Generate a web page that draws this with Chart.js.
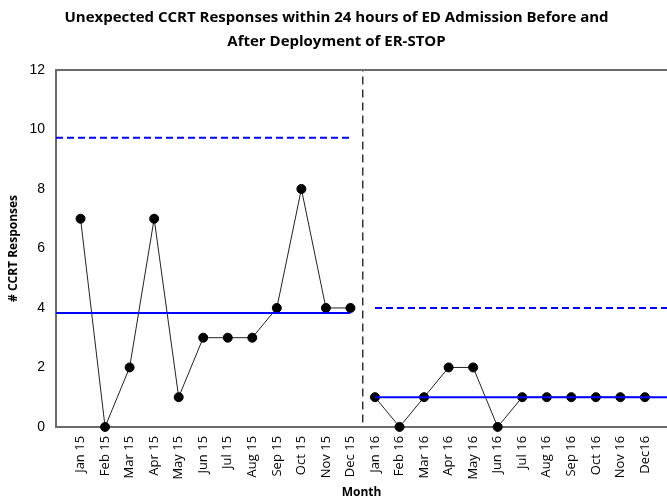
<!DOCTYPE html>
<html>
<head>
<meta charset="utf-8">
<script src="https://cdn.jsdelivr.net/npm/chart.js@4.4.0/dist/chart.umd.min.js"></script>
<style>
  html, body { margin: 0; padding: 0; background: #fff; overflow: hidden; }
  #wrap { width: 667px; height: 500px; position: relative; }
</style>
</head>
<body>
<div id="wrap"><canvas id="chart" width="667" height="500"></canvas></div>
<script>
// Month labels (Jan 15 .. Dec 16)
const months = ['Jan 15', 'Feb 15', 'Mar 15', 'Apr 15', 'May 15', 'Jun 15', 'Jul 15', 'Aug 15',
  'Sep 15', 'Oct 15', 'Nov 15', 'Dec 15', 'Jan 16', 'Feb 16', 'Mar 16', 'Apr 16', 'May 16',
  'Jun 16', 'Jul 16', 'Aug 16', 'Sep 16', 'Oct 16', 'Nov 16', 'Dec16'];

// Responses before and after ER-STOP
const beforeValues = [7, 0, 2, 7, 1, 3, 3, 3, 4, 8, 4, 4];
const afterValues = [1, 0, 1, 2, 2, 0, 1, 1, 1, 1, 1, 1];

// Centre lines and upper control limits
const beforeMean = 3.83;
const beforeUcl = 9.72;
const afterMean = 1;
const afterUcl = 4;

const yTicks = [0, 2, 4, 6, 8, 10, 12];

// Points sit at x = 1..24 on a linear axis
const beforePoints = beforeValues.map((v, i) => ({ x: i + 1, y: v }));
const afterPoints = afterValues.map((v, i) => ({ x: i + 13, y: v }));

const BLUE = '#0000ff';
const AXIS = '#6b6b6b';
const XMAX = 24.9;

// top frame line
const topFrame = {
  id: 'topFrame',
  afterDraw(chart) {
    const { ctx, chartArea } = chart;
    ctx.save();
    ctx.strokeStyle = AXIS;
    ctx.lineWidth = 2;
    ctx.beginPath();
    ctx.moveTo(chartArea.left, chartArea.top);
    ctx.lineTo(chartArea.right, chartArea.top);
    ctx.stroke();
    ctx.restore();
  }
};

const ctx = document.getElementById('chart').getContext('2d');
new Chart(ctx, {
  type: 'line',
  data: {
    datasets: [
      {
        data: [{ x: 0, y: beforeUcl }, { x: 12, y: beforeUcl }],
        borderColor: BLUE, borderWidth: 2, borderDash: [7, 4], pointRadius: 0
      },
      {
        data: [{ x: 0, y: beforeMean }, { x: 12, y: beforeMean }],
        borderColor: BLUE, borderWidth: 2, pointRadius: 0
      },
      {
        data: [{ x: 13, y: afterUcl }, { x: XMAX, y: afterUcl }],
        borderColor: BLUE, borderWidth: 2, borderDash: [7, 4], pointRadius: 0
      },
      {
        data: [{ x: 13, y: afterMean }, { x: XMAX, y: afterMean }],
        borderColor: BLUE, borderWidth: 2, pointRadius: 0
      },
      {
        data: [{ x: 12.5, y: 0.15 }, { x: 12.5, y: 12 }],
        borderColor: '#333', borderWidth: 1.5, borderDash: [8, 5], pointRadius: 0
      },
      {
        data: beforePoints,
        borderColor: '#222', borderWidth: 1, tension: 0,
        pointRadius: 4.5, pointBackgroundColor: '#000', pointBorderColor: '#000',
        clip: false
      },
      {
        data: afterPoints,
        borderColor: '#222', borderWidth: 1, tension: 0,
        pointRadius: 4.5, pointBackgroundColor: '#000', pointBorderColor: '#000',
        clip: false
      }
    ]
  },
  options: {
    responsive: false,
    animation: false,
    layout: { autoPadding: false, padding: { left: 6, right: 0, top: 6, bottom: 0 } },
    plugins: {
      legend: { display: false },
      tooltip: { enabled: false },
      title: {
        display: true,
        text: ['Unexpected CCRT Responses within 24 hours of ED Admission Before and',
               'After Deployment of ER-STOP'],
        color: '#000',
        font: { family: 'Open Sans', size: 15, weight: 'bold', lineHeight: 1.6 },
        padding: { top: 0, bottom: 16 }
      }
    },
    scales: {
      x: {
        type: 'linear',
        min: 0,
        max: XMAX,
        grid: { display: false, drawTicks: true, tickLength: 6, tickColor: AXIS },
        border: { color: AXIS, width: 2 },
        afterBuildTicks: function(scale) {
          scale.ticks = months.map((m, i) => ({ value: i + 1 }));
          scale.ticks.unshift({ value: 0 });
        },
        afterFit: function(scale) {
          scale.paddingRight = 0;
          scale.paddingLeft = 0;
        },
        ticks: {
          minRotation: 90,
          maxRotation: 90,
          autoSkip: false,
          color: '#000',
          padding: 3,
          font: { family: 'Open Sans', size: 13 },
          callback: function(value) {
            return value >= 1 && value <= months.length ? months[value - 1] : '';
          }
        },
        title: {
          display: true,
          text: 'Month',
          color: '#000',
          font: { family: 'Open Sans', size: 12, weight: 'bold' },
          padding: { top: 3, bottom: 0 }
        }
      },
      y: {
        min: 0,
        max: 12,
        grid: { display: false, drawTicks: true, tickLength: 6, tickColor: AXIS },
        border: { color: AXIS, width: 2 },
        afterBuildTicks: function(scale) {
          scale.ticks = yTicks.map(v => ({ value: v }));
        },
        afterFit: function(scale) {
          scale.width = 50;
        },
        ticks: {
          color: '#000',
          padding: 5,
          font: { family: 'Liberation Sans', size: 14 }
        },
        title: {
          display: true,
          text: '# CCRT Responses',
          color: '#000',
          font: { family: 'Open Sans', size: 12, weight: 'bold' },
          padding: { top: 0, bottom: 0 }
        }
      }
    }
  },
  plugins: [topFrame]
});
</script>
</body>
</html>
